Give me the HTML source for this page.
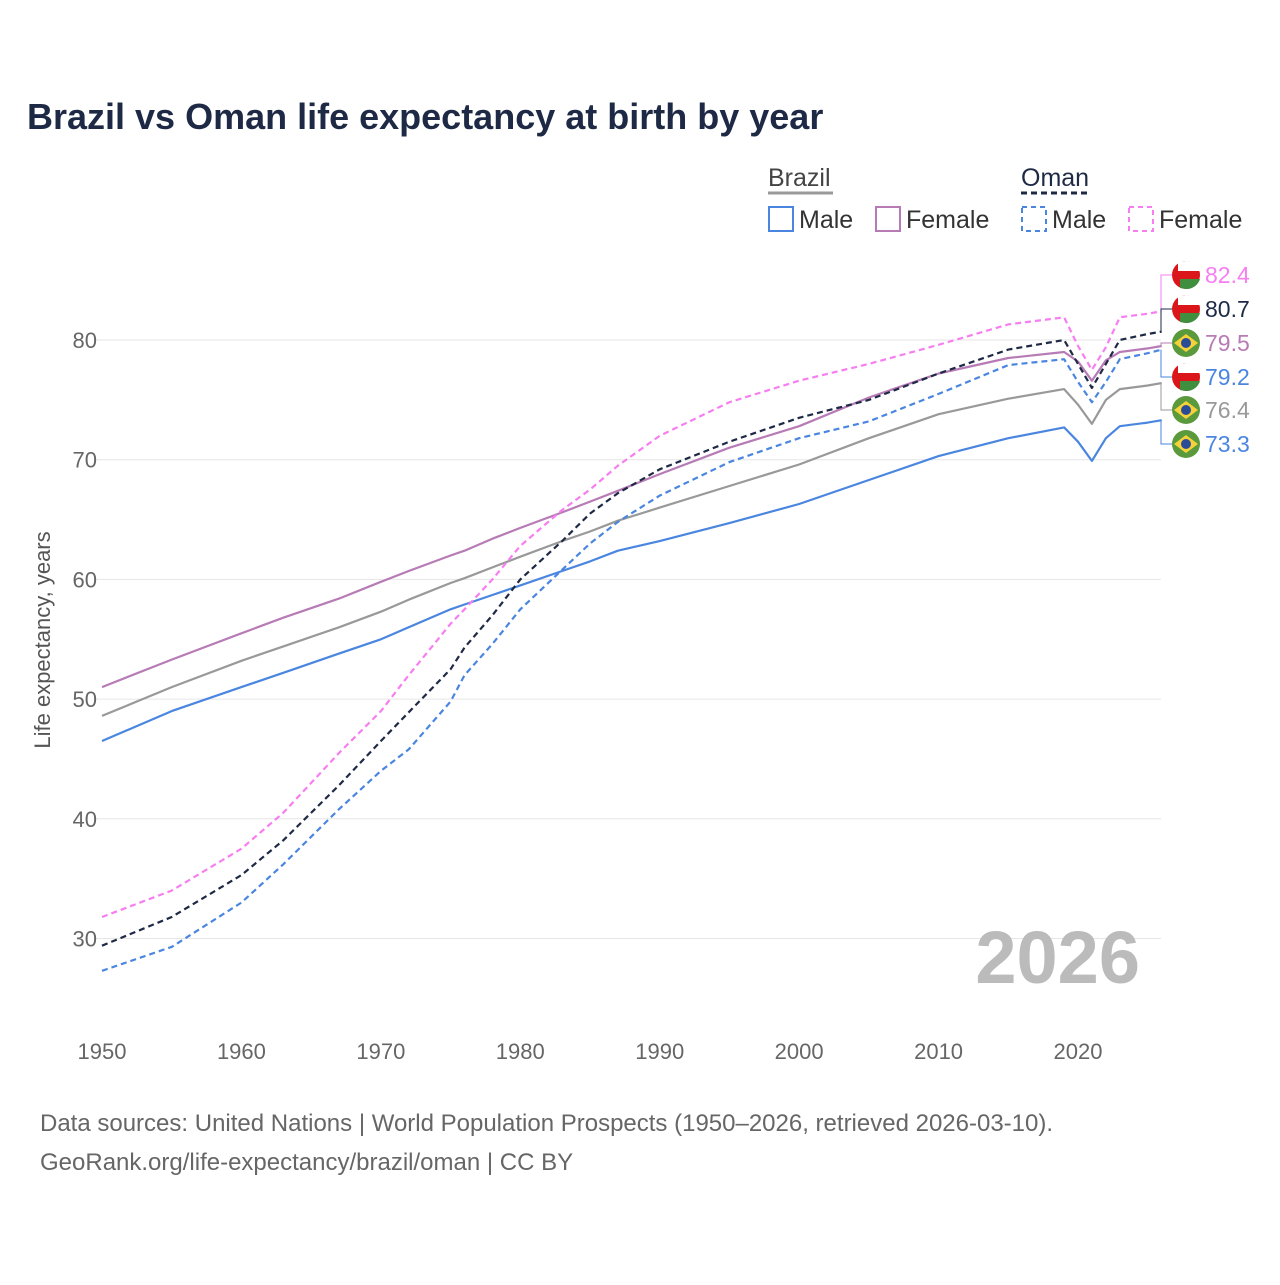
<!DOCTYPE html>
<html><head><meta charset="utf-8"><style>
body{margin:0;background:#fff;font-family:"Liberation Sans",sans-serif}
</style></head><body>
<svg width="1280" height="1280" viewBox="0 0 1280 1280" xmlns="http://www.w3.org/2000/svg">
<rect width="1280" height="1280" fill="#fff"/>
<text x="27" y="129" font-size="36" font-weight="bold" fill="#1e2a45">Brazil vs Oman life expectancy at birth by year</text>
<g id="legend" font-size="25" fill="#333">
<text x="768" y="186" fill="#444">Brazil</text>
<line x1="768" y1="193" x2="833" y2="193" stroke="#999" stroke-width="3"/>
<text x="1021" y="186" fill="#1e2a45">Oman</text>
<line x1="1021" y1="193" x2="1090" y2="193" stroke="#1e2a45" stroke-width="3" stroke-dasharray="6,4"/>
<rect x="769" y="207" width="24" height="24" fill="none" stroke="#4a86e0" stroke-width="2"/>
<text x="799" y="228">Male</text>
<rect x="876" y="207" width="24" height="24" fill="none" stroke="#b77bb5" stroke-width="2"/>
<text x="906" y="228">Female</text>
<rect x="1022" y="207" width="24" height="24" fill="none" stroke="#4a86e0" stroke-width="2" stroke-dasharray="5,4"/>
<text x="1052" y="228">Male</text>
<rect x="1129" y="207" width="24" height="24" fill="none" stroke="#f77ef0" stroke-width="2" stroke-dasharray="5,4"/>
<text x="1159" y="228">Female</text>
</g>
<g id="grid"></g>
<g id="axes"></g>
<text x="1140" y="983" font-size="74" font-weight="bold" fill="#bbbbbb" text-anchor="end">2026</text>
<g id="series"></g>
<g id="labels"></g>
<text transform="translate(50,640) rotate(-90)" font-size="22" fill="#555" text-anchor="middle">Life expectancy, years</text>
<text x="40" y="1131" font-size="24" fill="#666">Data sources: United Nations | World Population Prospects (1950–2026, retrieved 2026-03-10).</text>
<text x="40" y="1170" font-size="24" fill="#666">GeoRank.org/life-expectancy/brazil/oman | CC BY</text>
</svg>
<script>
const years =        [1950,1955,1960,1963,1967,1970,1972,1975,1976,1978,1980,1983,1985,1987,1990,1995,2000,2005,2010,2015,2019,2020,2021,2022,2023,2025,2026];
const brazilMale =   [46.5,49.0,51.0,52.2,53.8,55.0,56.0,57.5,57.9,58.7,59.5,60.7,61.5,62.4,63.2,64.7,66.3,68.3,70.3,71.8,72.7,71.5,69.9,71.8,72.8,73.1,73.3];
const brazilFemale = [51.0,53.3,55.5,56.8,58.4,59.8,60.7,62.0,62.4,63.4,64.3,65.6,66.5,67.4,68.8,71.0,72.8,75.2,77.2,78.5,79.0,78.2,76.6,78.3,79.0,79.3,79.5];
const brazilTotal =  [48.6,51.0,53.2,54.4,56.0,57.3,58.3,59.7,60.1,61.0,61.9,63.2,64.0,64.9,66.0,67.8,69.6,71.8,73.8,75.1,75.9,74.6,73.0,75.0,75.9,76.2,76.4];
const omanTotal =    [29.4,31.8,35.3,38.2,42.8,46.5,48.9,52.5,54.3,57.0,60.0,63.2,65.5,67.2,69.2,71.5,73.5,75.0,77.2,79.2,80.0,78.0,76.0,78.0,80.0,80.5,80.7];
const omanMale =     [27.3,29.3,33.0,36.2,40.8,44.0,45.8,49.8,52.0,54.6,57.5,60.8,63.0,64.8,67.0,69.8,71.8,73.2,75.5,77.9,78.4,76.5,74.8,76.5,78.4,78.9,79.2];
const omanFemale =   [31.8,34.0,37.5,40.5,45.5,49.0,52.0,56.3,57.5,60.0,62.8,65.8,67.5,69.5,72.0,74.8,76.6,78.0,79.6,81.3,81.9,79.5,77.5,79.4,81.9,82.2,82.4];
const yTicks = [30,40,50,60,70,80];
const xTicks = [1950,1960,1970,1980,1990,2000,2010,2020];
const NS="http://www.w3.org/2000/svg";
const X=y=>102+(y-1950)*(1078-102)/70;
const Y=v=>340+(80-v)*11.97;
function mk(t,a,p){const e=document.createElementNS(NS,t);for(const k in a)e.setAttribute(k,a[k]);p.appendChild(e);return e;}
const grid=document.getElementById('grid'),axes=document.getElementById('axes');
yTicks.forEach(v=>{
 const l=mk('line',{x1:95,x2:1161,y1:Y(v),y2:Y(v),stroke:'#e6e6e6','stroke-width':1},grid);
 
 
 const t=mk('text',{x:97,y:Y(v)+8,'font-size':22,fill:'#666','text-anchor':'end'},axes);
 t.textContent=v;
 
 
});
xTicks.forEach(v=>{
 const t=mk('text',{x:X(v),y:1059,'font-size':22,fill:'#666','text-anchor':'middle'},axes);
 t.textContent=v;
 
 
});
const series=[
 ['brazil-total',brazilTotal,'#999',''],
 ['brazil-male',brazilMale,'#4a86e0',''],
 ['brazil-female',brazilFemale,'#b77bb5',''],
 ['oman-male',omanMale,'#4a86e0','6,4'],
 ['oman-female',omanFemale,'#f77ef0','6,4'],
 ['oman-total',omanTotal,'#1e2a45','6,4']
];
const sg=document.getElementById('series');
series.forEach(s=>{
 const d=years.map((y,i)=>(i?'L':'M')+X(y).toFixed(1)+','+Y(s[1][i]).toFixed(1)).join('');
 const p=mk('path',{d:d,fill:'none',stroke:s[2],'stroke-width':2.2,'stroke-dasharray':s[3],'stroke-linejoin':'round'},sg);
 
 
});
const lg=document.getElementById('labels');
const labs=[['oman-female',omanFemale,'#f77ef0',275,'om'],['oman-total',omanTotal,'#1e2a45',309,'om'],['brazil-female',brazilFemale,'#b77bb5',343,'br'],['oman-male',omanMale,'#4a86e0',377,'om'],['brazil-total',brazilTotal,'#999',410,'br'],['brazil-male',brazilMale,'#4a86e0',444,'br']];
labs.forEach(l=>{
 const v=l[1][l[1].length-1],yv=Y(v);
 mk('path',{d:`M1161,${yv}L1161,${l[3]}L1172,${l[3]}`,fill:'none',stroke:l[2],'stroke-width':1},lg);
 if(l[4]==='om'){
  mk('circle',{cx:1186,cy:l[3],r:14,fill:'#db161b'},lg);
  mk('path',{d:`M1186,${l[3]-14}A14,14 0 0 1 1200,${l[3]-4}L1178,${l[3]-4}L1178,${l[3]-13}Z`,fill:'#fff'},lg);
  mk('path',{d:`M1186,${l[3]+14}A14,14 0 0 0 1200,${l[3]+4}L1180,${l[3]+4}L1180,${l[3]+13}Z`,fill:'#3f8f3f'},lg);
 } else {
  mk('circle',{cx:1186,cy:l[3],r:14,fill:'#5a9a3c'},lg);
  mk('path',{d:`M1174,${l[3]}L1186,${l[3]-9}L1198,${l[3]}L1186,${l[3]+9}Z`,fill:'#f6d23a'},lg);
  mk('circle',{cx:1186,cy:l[3],r:5,fill:'#2a4c96'},lg);
 }
 const t=mk('text',{x:1205,y:l[3]+8,'font-size':23,fill:l[2]},lg);
 t.textContent=v.toFixed(1);
 
 
});
</script>
</body></html>
